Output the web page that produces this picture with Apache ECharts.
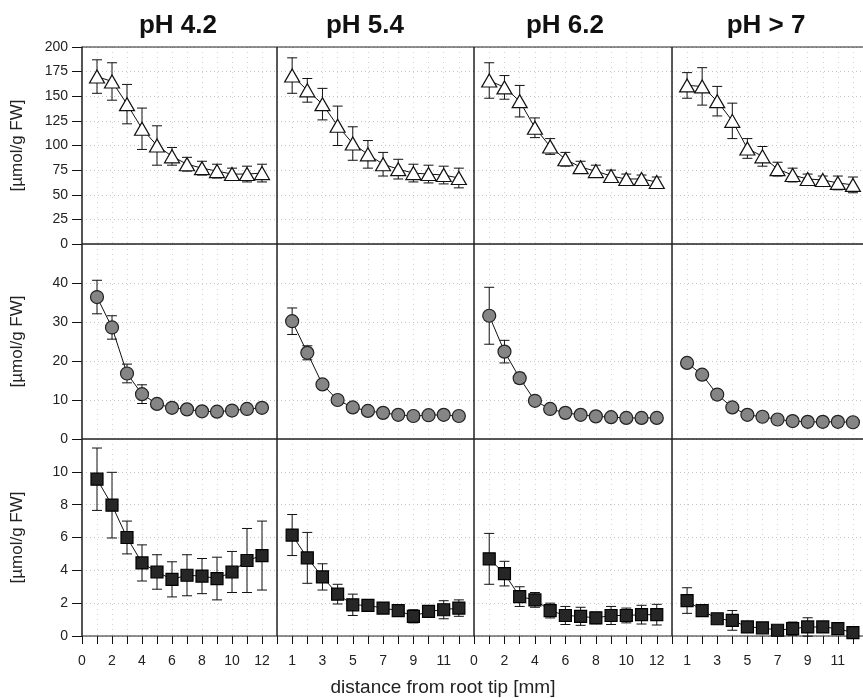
<!DOCTYPE html>
<html>
<head>
<meta charset="utf-8">
<script src="https://cdn.jsdelivr.net/npm/echarts@6/dist/echarts.min.js"></script>
<style>
  html, body { margin: 0; padding: 0; background: #fff; }
  #chart { width: 863px; height: 698px; }
</style>
</head>
<body>
<div id="chart"></div>
<script>
// data
var distance = [1, 2, 3, 4, 5, 6, 7, 8, 9, 10, 11, 12];
var phLabels = ['pH 4.2', 'pH 5.4', 'pH 6.2', 'pH > 7'];
var xLabelsEven = [0, 2, 4, 6, 8, 10, 12];
var xLabelsOdd = [1, 3, 5, 7, 9, 11];
var yLabels1 = [0, 25, 50, 75, 100, 125, 150, 175, 200];
var yLabels2 = [0, 10, 20, 30, 40];
var yLabels3 = [0, 2, 4, 6, 8, 10];

// row 1 - triangles
var tri42 = [170, 165, 142, 117, 100, 89, 81, 77, 74, 71, 71, 72];
var triErr42 = [17, 19, 20, 21, 20, 9, 7, 7, 7, 6, 8, 9];
var tri54 = [171, 156, 142, 120, 102, 91, 81, 76, 72, 71, 70, 67];
var triErr54 = [18, 12, 16, 20, 17, 14, 12, 10, 9, 9, 9, 10];
var tri62 = [166, 159, 145, 118, 99, 86, 78, 74, 69, 66, 66, 63];
var triErr62 = [18, 12, 16, 10, 8, 7, 6, 6, 6, 5, 4, 5];
var tri7 = [161, 160, 145, 125, 97, 89, 76, 70, 66, 65, 62, 60];
var triErr7 = [13, 19, 15, 18, 10, 10, 7, 7, 5, 4, 7, 8];

// row 2 - circles
var cir42 = [36.4, 28.6, 16.8, 11.5, 9.0, 8.0, 7.6, 7.1, 7.0, 7.3, 7.7, 8.0];
var cirErr42 = [4.3, 3.0, 2.4, 2.4, 0.8, 0.6, 0.6, 0.6, 0.6, 0.6, 0.7, 0.8];
var cir54 = [30.2, 22.1, 14.0, 10.0, 8.1, 7.2, 6.7, 6.2, 5.9, 6.1, 6.2, 5.9];
var cirErr54 = [3.4, 1.8, 0.6, 0.5, 0.5, 0.4, 0.4, 0.4, 0.4, 0.4, 0.4, 0.4];
var cir62 = [31.6, 22.4, 15.6, 9.8, 7.7, 6.7, 6.2, 5.8, 5.6, 5.4, 5.4, 5.4];
var cirErr62 = [7.3, 2.9, 1.3, 0.6, 0.5, 0.4, 0.4, 0.4, 0.4, 0.4, 0.4, 0.4];
var cir7 = [19.5, 16.5, 11.4, 8.1, 6.2, 5.7, 5.0, 4.6, 4.4, 4.4, 4.4, 4.3];
var cirErr7 = [0.5, 0.5, 0.4, 0.4, 0.3, 0.3, 0.3, 0.3, 0.3, 0.3, 0.3, 0.3];

// row 3 - squares
var sq42 = [9.55, 7.97, 6.0, 4.45, 3.9, 3.45, 3.7, 3.65, 3.5, 3.9, 4.6, 4.9];
var sqErr42 = [1.9, 2.0, 1.0, 1.1, 1.05, 1.07, 1.25, 1.07, 1.3, 1.25, 1.95, 2.1];
var sq54 = [6.15, 4.76, 3.6, 2.55, 1.9, 1.86, 1.7, 1.55, 1.2, 1.5, 1.6, 1.7];
var sqErr54 = [1.25, 1.55, 0.8, 0.6, 0.65, 0.3, 0.3, 0.3, 0.4, 0.3, 0.55, 0.5];
var sq62 = [4.7, 3.8, 2.4, 2.2, 1.55, 1.25, 1.2, 1.1, 1.25, 1.25, 1.3, 1.3];
var sqErr62 = [1.55, 0.75, 0.6, 0.45, 0.45, 0.55, 0.55, 0.35, 0.55, 0.45, 0.57, 0.63];
var sq7 = [2.16, 1.55, 1.05, 0.95, 0.55, 0.5, 0.35, 0.45, 0.55, 0.55, 0.45, 0.2];
var sqErr7 = [0.78, 0.3, 0.3, 0.6, 0.2, 0.2, 0.2, 0.4, 0.56, 0.3, 0.3, 0.2];

var means = [[tri42, tri54, tri62, tri7], [cir42, cir54, cir62, cir7], [sq42, sq54, sq62, sq7]];
var errs = [[triErr42, triErr54, triErr62, triErr7], [cirErr42, cirErr54, cirErr62, cirErr7], [sqErr42, sqErr54, sqErr62, sqErr7]];
var yLabels = [yLabels1, yLabels2, yLabels3];
var xLabels = [xLabelsEven, xLabelsOdd, xLabelsEven, xLabelsOdd];

// layout
var colLeft = [82, 277, 474, 672];
var colWidth = [195, 197, 198, 196];
var rowTop = [47, 244, 439];
var rowHeight = [197, 195, 197];
var yMax = [200, 50, 12];
var yStep = [25, 10, 2];
var FONT = 'Liberation Sans, Arial, sans-serif';

var symbols = [
    { symbol: 'triangle', size: [15, 13], color: '#fff', border: '#111' },
    { symbol: 'circle', size: 13, color: '#858585', border: '#222' },
    { symbol: 'rect', size: 12, color: '#262626', border: '#000' }
];

var grids = [], xAxes = [], yAxes = [], series = [];

function errorBarItem(params, api) {
    var x = api.value(0);
    var lo = api.coord([x, api.value(1)]);
    var hi = api.coord([x, api.value(2)]);
    var w = 5;
    var st = { stroke: '#111', lineWidth: 1 };
    return {
        type: 'group',
        children: [
            { type: 'line', shape: { x1: lo[0], y1: lo[1], x2: hi[0], y2: hi[1] }, style: st },
            { type: 'line', shape: { x1: lo[0] - w, y1: lo[1], x2: lo[0] + w, y2: lo[1] }, style: st },
            { type: 'line', shape: { x1: hi[0] - w, y1: hi[1], x2: hi[0] + w, y2: hi[1] }, style: st }
        ]
    };
}

for (var r = 0; r < 3; r++) {
    for (var c = 0; c < 4; c++) {
        var idx = r * 4 + c;
        grids.push({
            left: colLeft[c], top: rowTop[r], width: colWidth[c], height: rowHeight[r],
            outerBoundsMode: 'none', containLabel: false, z: 3,
            show: true, borderColor: '#222', borderWidth: 1, backgroundColor: 'transparent'
        });
        (function (labs) {
            xAxes.push({
                type: 'value', gridIndex: idx, min: 0, max: 13, interval: 1,
                axisLine: { show: false },
                axisTick: { show: r === 2, inside: false, length: 8, lineStyle: { color: '#111' } },
                axisLabel: {
                    show: r === 2, margin: 18, fontSize: 14, color: '#222', fontFamily: FONT,
                    hideOverlap: false, showMinLabel: true, showMaxLabel: true,
                    formatter: function (v) { return labs.indexOf(v) >= 0 ? String(v) : ''; }
                },
                splitLine: { show: true, lineStyle: { color: '#d4d4d4', type: [1, 4], width: 1 } }
            });
        })(xLabels[c]);
        (function (labs) {
            yAxes.push({
                type: 'value', gridIndex: idx, min: 0, max: yMax[r], interval: yStep[r],
                name: c === 0 ? '[µmol/g FW]' : '',
                nameLocation: 'middle', nameGap: 56, nameRotate: 90,
                nameTextStyle: { fontSize: 17, color: '#222', fontFamily: FONT },
                axisLine: { show: c === 0, lineStyle: { color: '#888', width: 2 } },
                axisTick: { show: c === 0, length: 10, lineStyle: { color: '#111' } },
                axisLabel: {
                    show: c === 0, margin: 14, fontSize: 14, color: '#222', fontFamily: FONT,
                    showMinLabel: true, showMaxLabel: true,
                    formatter: function (v) { return labs.indexOf(v) >= 0 ? String(v) : ''; }
                },
                splitLine: { show: true, lineStyle: { color: '#c4c4c4', type: [1, 3], width: 1 } }
            });
        })(yLabels[r]);

        var m = means[r][c], e = errs[r][c];
        series.push({
            type: 'custom', xAxisIndex: idx, yAxisIndex: idx, z: 4,
            renderItem: errorBarItem,
            data: distance.map(function (d, i) { return [d, m[i] - e[i], m[i] + e[i]]; })
        });
        series.push({
            type: 'line', xAxisIndex: idx, yAxisIndex: idx, z: 5,
            symbol: symbols[r].symbol, symbolSize: symbols[r].size, showAllSymbol: true,
            lineStyle: { color: '#111', width: 1 },
            itemStyle: { color: symbols[r].color, borderColor: symbols[r].border, borderWidth: 1.2 },
            data: distance.map(function (d, i) { return [d, m[i]]; })
        });
    }
}

var titleX = [178, 365, 565, 766];
var graphics = phLabels.map(function (t, i) {
    return {
        type: 'text', x: titleX[i], y: 26,
        style: { text: t, font: 'bold 26px ' + FONT, fill: '#111', align: 'center', verticalAlign: 'middle', textAlign: 'center', textVerticalAlign: 'middle' }
    };
});
graphics.push({
    type: 'text', x: 443, y: 688,
    style: { text: 'distance from root tip [mm]', font: '19px ' + FONT, fill: '#222', align: 'center', verticalAlign: 'middle', textAlign: 'center', textVerticalAlign: 'middle' }
});

var myChart = echarts.init(document.getElementById('chart'));
myChart.setOption({
    animation: false,
    grid: grids,
    xAxis: xAxes,
    yAxis: yAxes,
    series: series,
    graphic: graphics
});
</script>
</body>
</html>
